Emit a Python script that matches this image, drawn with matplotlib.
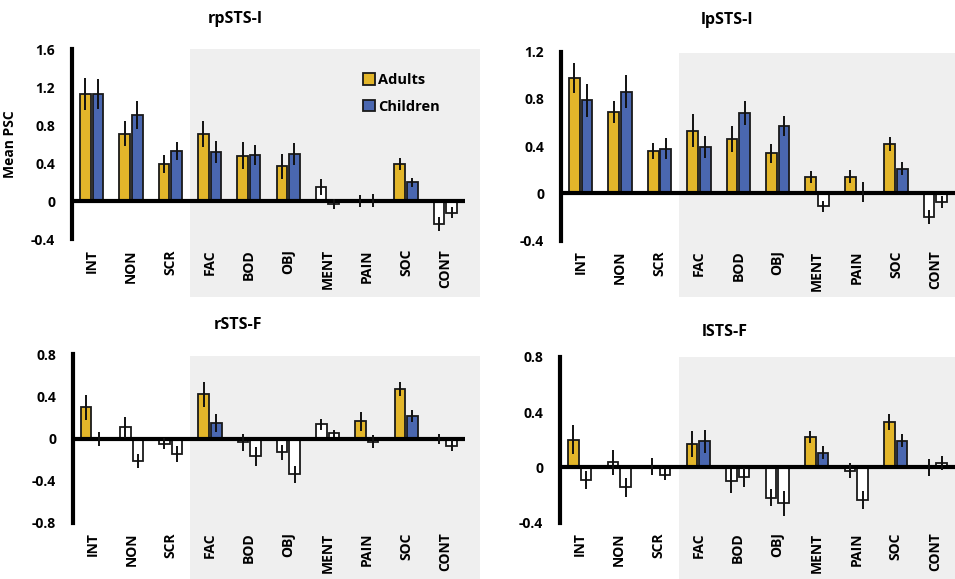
import matplotlib
matplotlib.use("Agg")
import matplotlib.pyplot as plt
from matplotlib.patches import Rectangle, Patch
import numpy as np

plt.rcParams['font.family'] = ['Open Sans', 'DejaVu Sans']
plt.rcParams['font.weight'] = 'bold'

categories = ["INT", "NON", "SCR", "FAC", "BOD", "OBJ", "MENT", "PAIN", "SOC", "CONT"]
regions = ["rpSTS-I", "lpSTS-I", "rSTS-F", "lSTS-F"]

# Mean PSC values
adults_rpSTS_I = [1.13, 0.71, 0.39, 0.71, 0.48, 0.37, 0.15, 0.005, 0.39, -0.24]
children_rpSTS_I = [1.13, 0.91, 0.53, 0.52, 0.49, 0.50, -0.03, 0.01, 0.20, -0.12]
adults_err_rpSTS_I = [0.17, 0.13, 0.095, 0.14, 0.145, 0.13, 0.08, 0.065, 0.065, 0.07]
children_err_rpSTS_I = [0.16, 0.145, 0.09, 0.115, 0.105, 0.115, 0.05, 0.065, 0.05, 0.06]
adults_sig_rpSTS_I = [1, 1, 1, 1, 1, 1, 0, 0, 1, 0]
children_sig_rpSTS_I = [1, 1, 1, 1, 1, 1, 0, 0, 1, 0]

adults_lpSTS_I = [0.98, 0.69, 0.36, 0.53, 0.46, 0.34, 0.14, 0.14, 0.42, -0.20]
children_lpSTS_I = [0.79, 0.86, 0.38, 0.395, 0.68, 0.57, -0.11, 0.01, 0.21, -0.07]
adults_err_lpSTS_I = [0.127, 0.095, 0.07, 0.14, 0.11, 0.08, 0.05, 0.055, 0.06, 0.056]
children_err_lpSTS_I = [0.14, 0.14, 0.09, 0.095, 0.10, 0.085, 0.05, 0.085, 0.056, 0.05]
adults_sig_lpSTS_I = [1, 1, 1, 1, 1, 1, 1, 1, 1, 0]
children_sig_lpSTS_I = [1, 1, 1, 1, 1, 1, 0, 0, 1, 0]

adults_rSTS_F = [0.295, 0.105, -0.048, 0.42, -0.038, -0.133, 0.136, 0.162, 0.47, -0.005]
children_rSTS_F = [-0.005, -0.21, -0.15, 0.146, -0.17, -0.34, 0.048, -0.03, 0.215, -0.07]
adults_err_rSTS_F = [0.115, 0.10, 0.05, 0.12, 0.08, 0.07, 0.053, 0.087, 0.068, 0.05]
children_err_rSTS_F = [0.07, 0.067, 0.075, 0.085, 0.087, 0.08, 0.035, 0.063, 0.06, 0.053]
adults_sig_rSTS_F = [1, 0, 0, 1, 0, 0, 0, 1, 1, 0]
children_sig_rSTS_F = [0, 0, 0, 1, 0, 0, 0, 0, 1, 0]

adults_lSTS_F = [0.20, 0.036, 0.005, 0.17, -0.097, -0.218, 0.218, -0.024, 0.327, 0.0]
children_lSTS_F = [-0.092, -0.145, -0.053, 0.187, -0.073, -0.259, 0.107, -0.235, 0.194, 0.032]
adults_err_lSTS_F = [0.105, 0.088, 0.06, 0.092, 0.085, 0.063, 0.044, 0.055, 0.06, 0.06]
children_err_lSTS_F = [0.067, 0.067, 0.04, 0.08, 0.067, 0.09, 0.045, 0.067, 0.048, 0.052]
adults_sig_lSTS_F = [1, 0, 0, 1, 0, 0, 1, 0, 1, 0]
children_sig_lSTS_F = [0, 0, 0, 1, 0, 0, 1, 0, 1, 0]

ylims = [(-0.4, 1.6), (-0.4, 1.2), (-0.8, 0.8), (-0.4, 0.8)]
yticks = [[-0.4, 0, 0.4, 0.8, 1.2, 1.6], [-0.4, 0, 0.4, 0.8, 1.2],
          [-0.8, -0.4, 0, 0.4, 0.8], [-0.4, 0, 0.4, 0.8]]

data = [
    (adults_rpSTS_I, children_rpSTS_I, adults_err_rpSTS_I, children_err_rpSTS_I, adults_sig_rpSTS_I, children_sig_rpSTS_I),
    (adults_lpSTS_I, children_lpSTS_I, adults_err_lpSTS_I, children_err_lpSTS_I, adults_sig_lpSTS_I, children_sig_lpSTS_I),
    (adults_rSTS_F, children_rSTS_F, adults_err_rSTS_F, children_err_rSTS_F, adults_sig_rSTS_F, children_sig_rSTS_F),
    (adults_lSTS_F, children_lSTS_F, adults_err_lSTS_F, children_err_lSTS_F, adults_sig_lSTS_F, children_sig_lSTS_F),
]

GOLD = "#E3B62A"
BLUE = "#4A67B0"
GRAY = "#EFEFEF"

W, H = 955, 579
fig = plt.figure(figsize=(W / 100, H / 100), dpi=100)

# axes positions in pixels: left, top, right, bottom
ax_px = [(72, 49.3, 465, 239.3), (561, 51.7, 955, 240.7),
         (72.7, 354.3, 465, 522.7), (560, 356.7, 955, 522.7)]
# shaded region vertical extent and right edge (pixels)
shade_px = [(49, 297, 480), (52.7, 297, 955), (356, 579, 480), (357, 579, 955)]
title_px = [(235, 19), (727, 20), (238, 325), (725, 332)]

x = np.arange(len(categories))
bw = 0.27
off = 0.16

for i, (ad, ch, ade, che, ads, chs) in enumerate(data):
    l, t, r, b = ax_px[i]
    ax = fig.add_axes([l / W, 1 - b / H, (r - l) / W, (b - t) / H])
    ax.patch.set_visible(False)
    ax.set_xlim(-0.5, len(categories) - 0.5)
    ax.set_ylim(*ylims[i])

    acol = [GOLD if s else "white" for s in ads]
    ccol = [BLUE if s else "white" for s in chs]
    ax.bar(x - off, ad, bw, color=acol, edgecolor="#1a1a1a", linewidth=1.3, zorder=2)
    ax.bar(x + off, ch, bw, color=ccol, edgecolor="#1a1a1a", linewidth=1.3, zorder=2)
    ax.errorbar(x - off, ad, yerr=ade, fmt="none", ecolor="#111111", elinewidth=1.4, capsize=0, zorder=4)
    ax.errorbar(x + off, ch, yerr=che, fmt="none", ecolor="#111111", elinewidth=1.4, capsize=0, zorder=4)
    ax.axhline(0, color="black", linewidth=3, zorder=3)

    for s in ["top", "right", "bottom"]:
        ax.spines[s].set_visible(False)
    ax.spines["left"].set_linewidth(3)
    ax.set_yticks(yticks[i])
    ax.set_yticklabels([("%g" % v) for v in yticks[i]], fontsize=10, fontweight="bold")
    ax.set_xticks(x)
    ax.set_xticklabels(categories, rotation=90, fontsize=10, fontweight="bold")
    ax.tick_params(axis="both", length=0)
    ax.tick_params(axis="y", pad=12)
    ax.tick_params(axis="x", pad=7)

    # shaded background behind social-content categories
    x0_px = ax.transData.transform((2.5, 0))[0]
    y0, y1, xr = shade_px[i]
    fig.add_artist(Rectangle((x0_px / W, 1 - y1 / H), (xr - x0_px) / W, (y1 - y0) / H,
                             transform=fig.transFigure, facecolor=GRAY, edgecolor="none", zorder=-10))

    tx, ty = title_px[i]
    fig.text(tx / W, 1 - ty / H, regions[i], ha="center", va="center", fontsize=11.5, fontweight="bold")

    if i == 0:
        ax.set_ylabel("Mean PSC", fontsize=10, fontweight="bold")
        ax.yaxis.set_label_coords(-0.14, 0.5)
        handles = [Patch(facecolor=GOLD, edgecolor="#1a1a1a", linewidth=1.3, label="Adults"),
                   Patch(facecolor=BLUE, edgecolor="#1a1a1a", linewidth=1.3, label="Children")]
        leg = fig.legend(handles=handles, loc="upper left", bbox_to_anchor=(350 / W, 1 - 60 / H),
                         frameon=False, handlelength=0.8, handleheight=0.8, handletextpad=0.25,
                         labelspacing=0.85, prop={"weight": "bold", "size": 10.5})

fig.savefig("out.png", dpi=100)
